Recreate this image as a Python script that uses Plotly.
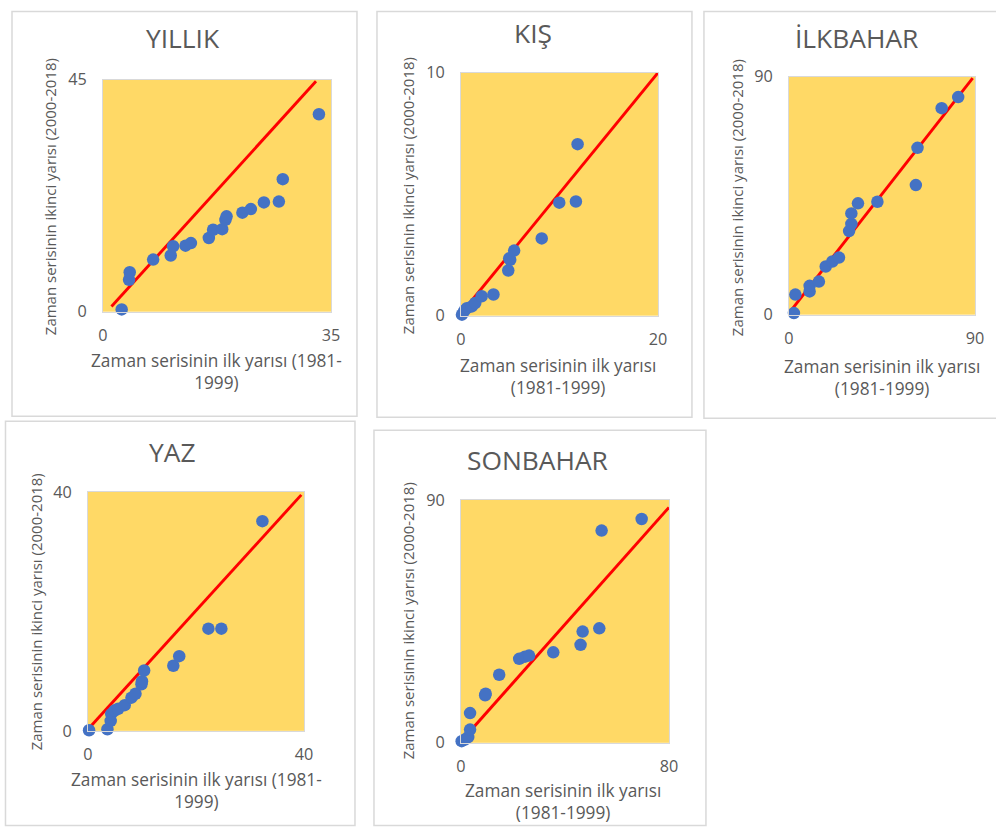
import plotly.graph_objects as go

W, H = 996, 837

# --- data: first half (1981-1999) vs second half (2000-2018) ---
yillik_x = [2.87, 4.0, 4.1, 7.7, 10.4, 10.76, 12.67, 13.5, 16.25, 16.9, 18.3, 18.8, 18.97, 21.4, 22.7, 24.7, 27.0, 27.6, 33.15]
yillik_y = [0.44, 6.2, 7.65, 10.1, 10.9, 12.7, 12.8, 13.3, 14.3, 15.9, 16.0, 17.8, 18.5, 19.2, 19.9, 21.2, 21.35, 25.7, 38.3]
yillik_line_x = [1.3, 32.7]
yillik_line_y = [1.0, 44.7]

kis_x = [0.1, 0.34, 0.6, 1.1, 1.45, 2.1, 3.3, 4.8, 5.0, 4.9, 5.4, 8.2, 9.98, 11.67, 11.84]
kis_y = [0.04, 0.2, 0.31, 0.38, 0.52, 0.8, 0.87, 1.86, 2.3, 2.36, 2.68, 3.18, 4.65, 4.7, 7.06]
kis_line_x = [0.2, 20.0]
kis_line_y = [0.18, 10.0]

ilkbahar_x = [2.4, 3.1, 10.0, 10.0, 14.5, 17.8, 21.0, 24.2, 29.1, 30.2, 30.2, 33.4, 42.8, 61.4, 62.2, 73.9, 81.9]
ilkbahar_y = [0.6, 7.6, 8.8, 10.9, 12.5, 18.2, 20.1, 21.6, 31.6, 34.3, 38.3, 42.1, 42.7, 49.0, 63.1, 78.1, 82.3]
ilkbahar_line_x = [0.0, 88.9]
ilkbahar_line_y = [0.6, 89.5]

yaz_x = [0.2, 3.6, 4.2, 4.3, 4.95, 5.6, 6.8, 8.05, 8.8, 9.9, 10.0, 10.4, 15.8, 16.9, 22.3, 24.7, 32.3]
yaz_y = [0.1, 0.27, 1.66, 2.8, 3.4, 3.7, 4.3, 5.55, 6.2, 7.8, 8.3, 10.1, 10.9, 12.5, 17.1, 17.1, 35.1]
yaz_line_x = [0.3, 39.5]
yaz_line_y = [0.55, 39.5]

sonbahar_x = [0.26, 1.5, 2.8, 3.5, 3.5, 9.3, 9.5, 14.7, 22.4, 24.6, 26.2, 35.5, 46.0, 46.8, 53.2, 54.1, 69.5]
sonbahar_y = [0.6, 1.2, 2.1, 4.9, 11.0, 17.6, 18.2, 25.2, 31.1, 31.9, 32.3, 33.5, 36.3, 41.2, 42.4, 78.6, 82.9]
sonbahar_line_x = [0.0, 80.0]
sonbahar_line_y = [0.5, 87.2]

titles = ["YILLIK", "KIŞ", "İLKBAHAR", "YAZ", "SONBAHAR"]
x_max = [35, 20, 90, 40, 80]
y_max = [45, 10, 90, 40, 90]

y_title = "Zaman serisinin ikinci yarısı (2000-2018)"
x_title_wide = "Zaman serisinin ilk yarısı (1981-<br>1999)"
x_title_narrow = "Zaman serisinin ilk yarısı<br>(1981-1999)"

series = [
    (yillik_x, yillik_y, yillik_line_x, yillik_line_y),
    (kis_x, kis_y, kis_line_x, kis_line_y),
    (ilkbahar_x, ilkbahar_y, ilkbahar_line_x, ilkbahar_line_y),
    (yaz_x, yaz_y, yaz_line_x, yaz_line_y),
    (sonbahar_x, sonbahar_y, sonbahar_line_x, sonbahar_line_y),
]

# --- layout geometry in screen pixels ---
# plot area (left, right, top, bottom), frame box, title centre,
# y-title centre, x-title centre, x-title text
geom = [
    dict(plot=(103, 331, 79, 312), box=(12, 357, 6, 417), title=(183, 37),
         ytitle=(50, 196), xtitle=(217, 372), xt=x_title_wide),
    dict(plot=(461, 658, 72, 316), box=(377, 692, 2, 418), title=(533, 32),
         ytitle=(408, 195), xtitle=(558, 377), xt=x_title_narrow),
    dict(plot=(789, 975, 76, 315), box=(704, 1030, 2, 419), title=(857, 37),
         ytitle=(737, 197), xtitle=(882, 378), xt=x_title_narrow),
    dict(plot=(88, 304, 493, 733), box=(2, 355, 422, 835), title=(173, 453),
         ytitle=(36, 613), xtitle=(197, 793), xt=x_title_wide),
    dict(plot=(461, 669, 501, 745), box=(374, 706, 431, 845), title=(538, 461),
         ytitle=(408, 622), xtitle=(563, 804), xt=x_title_narrow),
]

# screen pixel -> figure pixel (the displayed figure is slightly inset and scaled)
OX, OY = 5.0, 10.0
SX, SY = 0.986, 0.978


def fx(px, clamp=False):
    v = (px - OX) / SX / W
    return max(v, 0.5 / W) if clamp else v


def fy(py, clamp=False):
    v = 1 - (py - OY) / SY / H
    return min(max(v, 0.5 / H), 1 - 0.5 / H) if clamp else v


def fs(size):
    return size / SX


TEXT = "#595959"
FONT = "Open Sans"
BLUE = "#4472C4"
RED = "#FF0000"
GOLD = "#FFD966"
GRID = "#D9D9D9"

fig = go.Figure()
shapes = []
annotations = []
layout_axes = {}

for i, (g, (sx, sy, lx, ly)) in enumerate(zip(geom, series)):
    n = "" if i == 0 else str(i + 1)
    xa, ya = "x" + n, "y" + n
    l, r, t, b = g["plot"]

    fig.add_trace(go.Scatter(
        x=lx, y=ly, xaxis=xa, yaxis=ya, mode="lines",
        line=dict(color=RED, width=2.9), showlegend=False, hoverinfo="skip",
    ))
    fig.add_trace(go.Scatter(
        x=sx, y=sy, xaxis=xa, yaxis=ya, mode="markers",
        marker=dict(color=BLUE, size=12.5, line=dict(width=0)),
        cliponaxis=False, showlegend=False,
    ))

    layout_axes["xaxis" + n] = dict(
        domain=[fx(l), fx(r)], anchor=ya, range=[0, x_max[i]],
        tickvals=[0, x_max[i]], ticks="", ticklabelstandoff=9,
        showgrid=False, zeroline=False, showline=True, mirror=True,
        linecolor=GRID, linewidth=1,
        tickfont=dict(family=FONT, size=fs(16), color=TEXT),
    )
    layout_axes["yaxis" + n] = dict(
        domain=[fy(b), fy(t)], anchor=xa, range=[0, y_max[i]],
        tickvals=[0, y_max[i]], ticks="", ticklabelstandoff=12,
        showgrid=False, zeroline=False, showline=True, mirror=True,
        linecolor=GRID, linewidth=1,
        tickfont=dict(family=FONT, size=fs(16), color=TEXT),
    )

    bl, br, bt, bb = g["box"]
    shapes.append(dict(
        type="rect", xref="paper", yref="paper",
        x0=fx(bl, True), x1=fx(br), y0=fy(bb, True), y1=fy(bt, True),
        line=dict(color=GRID, width=1.5), fillcolor="rgba(0,0,0,0)", layer="below",
    ))

    annotations.append(dict(
        text=titles[i], xref="paper", yref="paper",
        x=fx(g["title"][0]), y=fy(g["title"][1]),
        xanchor="center", yanchor="middle", showarrow=False,
        font=dict(family=FONT, size=fs(26), color=TEXT),
    ))
    annotations.append(dict(
        text=y_title, xref="paper", yref="paper",
        x=fx(g["ytitle"][0]), y=fy(g["ytitle"][1]),
        xanchor="center", yanchor="middle", showarrow=False, textangle=-90,
        font=dict(family=FONT, size=fs(14.8), color=TEXT),
    ))
    annotations.append(dict(
        text=g["xt"], xref="paper", yref="paper",
        x=fx(g["xtitle"][0]), y=fy(g["xtitle"][1]),
        xanchor="center", yanchor="middle", showarrow=False,
        font=dict(family=FONT, size=fs(17), color=TEXT),
    ))

fig.update_layout(
    width=W, height=H,
    margin=dict(l=0, r=0, t=0, b=0),
    paper_bgcolor="white",
    plot_bgcolor=GOLD,
    shapes=shapes,
    annotations=annotations,
    **layout_axes,
)

fig.write_html("out.html")
